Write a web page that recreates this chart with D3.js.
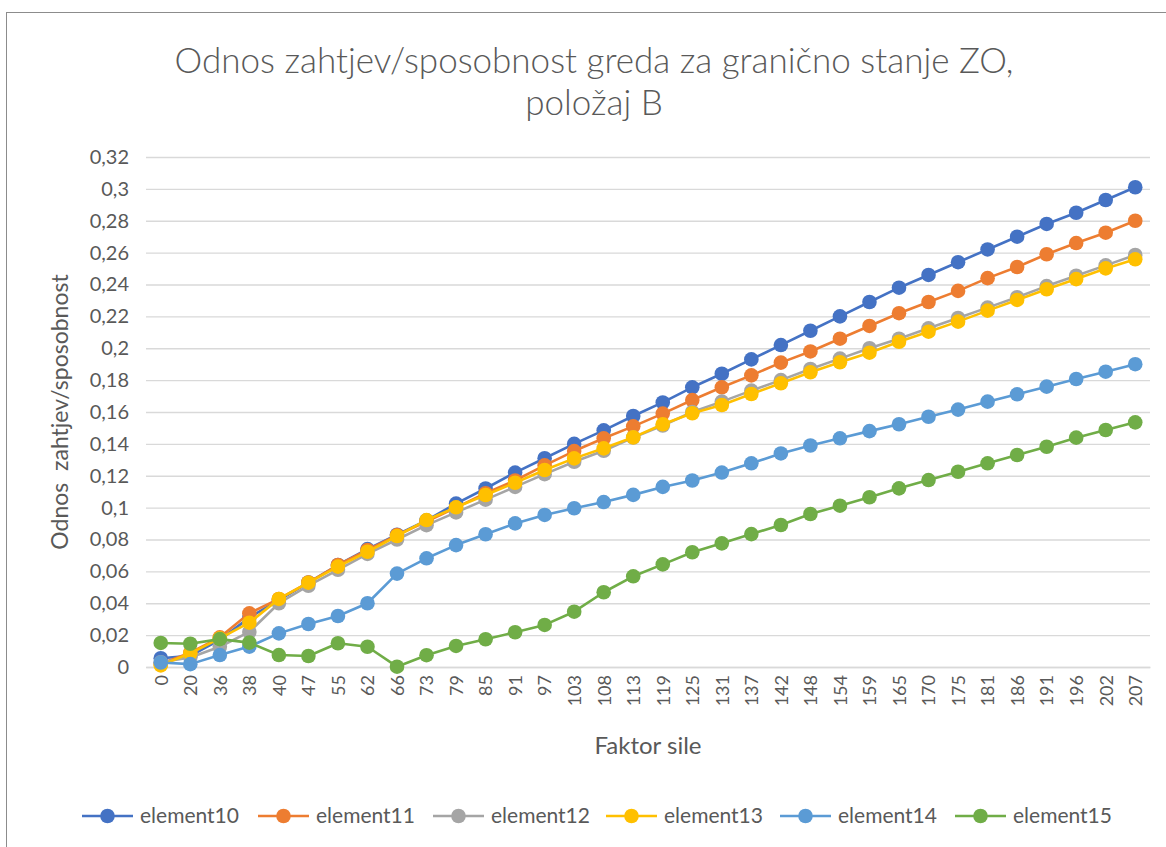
<!DOCTYPE html>
<html>
<head>
<meta charset="utf-8">
<script src="https://cdn.jsdelivr.net/npm/d3@7"></script>
<style>
  html, body { margin: 0; padding: 0; background: #ffffff; }
  svg { display: block; font-family: Lato, "Open Sans", sans-serif; }
</style>
</head>
<body>
<svg id="chart" width="1166" height="847"></svg>
<script>
// Force factor steps along the x axis
const categories = ["0","20","36","38","40","47","55","62","66","73","79","85","91","97","103","108","113","119","125","131","137","142","148","154","159","165","170","175","181","186","191","196","202","207"];

// Demand/capacity ratio per beam element
const element10 = [0.0055,0.007,0.017,0.031,0.042,0.053,0.064,0.074,0.083,0.092,0.1025,0.112,0.122,0.131,0.140,0.1485,0.1575,0.166,0.1755,0.184,0.193,0.202,0.211,0.220,0.229,0.238,0.246,0.254,0.262,0.270,0.278,0.285,0.293,0.301];
const element11 = [0.002,0.009,0.0186,0.0337,0.0427,0.053,0.064,0.0734,0.0828,0.0912,0.100,0.109,0.117,0.1265,0.1355,0.1435,0.151,0.159,0.1675,0.1755,0.183,0.191,0.198,0.206,0.214,0.222,0.229,0.236,0.244,0.251,0.259,0.266,0.2725,0.280];
const element12 = [0.003,0.006,0.0127,0.022,0.040,0.051,0.061,0.071,0.080,0.089,0.097,0.105,0.113,0.121,0.1288,0.1357,0.144,0.1515,0.160,0.1665,0.1734,0.180,0.187,0.1935,0.200,0.206,0.2125,0.219,0.2255,0.232,0.239,0.2455,0.252,0.2585];
const element13 = [0.001,0.0086,0.018,0.0278,0.0427,0.0529,0.063,0.0723,0.0822,0.0922,0.1002,0.1079,0.1156,0.1236,0.1309,0.1372,0.1441,0.1523,0.1592,0.1644,0.1713,0.178,0.1849,0.1912,0.1972,0.2041,0.2104,0.2167,0.2236,0.2303,0.237,0.2434,0.2501,0.2558];
const element14 = [0.0028,0.0018,0.0075,0.0128,0.0211,0.027,0.032,0.040,0.0586,0.0682,0.0765,0.0833,0.0901,0.0954,0.0996,0.1035,0.108,0.113,0.117,0.122,0.1278,0.134,0.139,0.1435,0.148,0.1523,0.157,0.1615,0.1665,0.1711,0.1759,0.1807,0.1853,0.190];
const element15 = [0.0151,0.0146,0.0175,0.0153,0.0075,0.0069,0.0149,0.0127,0.0002,0.0074,0.0132,0.0174,0.0218,0.0264,0.0347,0.0469,0.0569,0.0644,0.072,0.0776,0.0834,0.0891,0.096,0.1012,0.1065,0.1121,0.1173,0.1225,0.1278,0.133,0.1382,0.1439,0.1487,0.1535];

const seriesNames = ["element10","element11","element12","element13","element14","element15"];
const seriesColors = ["#4472C4","#ED7D31","#A5A5A5","#FFC000","#5B9BD5","#70AD47"];
const yTicks = [0,0.02,0.04,0.06,0.08,0.1,0.12,0.14,0.16,0.18,0.2,0.22,0.24,0.26,0.28,0.3,0.32];

const titleLines = ["Odnos zahtjev/sposobnost greda za granično stanje ZO,", "položaj B"];
const xTitle = "Faktor sile";
const yTitle = "Odnos  zahtjev/sposobnost";

const series = seriesNames.map((name, i) => ({
  name,
  color: seriesColors[i],
  values: [element10, element11, element12, element13, element14, element15][i]
}));

const svg = d3.select("#chart");
const textColor = "#595959";
const gridColor = "#d9d9d9";

// Plot area
const plot = { left: 146, right: 1150, top: 157, bottom: 667 };

const x = d3.scalePoint().domain(categories).range([plot.left, plot.right]).padding(0.5);
const y = d3.scaleLinear().domain([0, 0.32]).range([plot.bottom, plot.top]);

const locale = d3.formatLocale({ decimal: ",", thousands: ".", grouping: [3], currency: ["", " €"] });
const fmt = locale.format(".2~f");

// Outer chart border
svg.append("rect")
  .attr("x", 6.5).attr("y", 12.5)
  .attr("width", 1200).attr("height", 900)
  .attr("fill", "none").attr("stroke", "#8c8c8c").attr("stroke-width", 1);

// Title
const title = svg.append("text")
  .attr("text-anchor", "middle")
  .attr("fill", textColor)
  .attr("font-size", 35)
  .attr("font-weight", 300);
titleLines.forEach((line, i) => {
  title.append("tspan").attr("x", 594).attr("y", 73 + i * 42).text(line);
});

// Y axis with horizontal gridlines
const yAxis = svg.append("g")
  .attr("transform", `translate(${plot.left},0)`)
  .call(d3.axisLeft(y).tickValues(yTicks).tickFormat(fmt)
    .tickSize(-(plot.right - plot.left)).tickPadding(17));
yAxis.select(".domain").remove();
yAxis.selectAll(".tick line").attr("stroke", gridColor).attr("stroke-width", 1.3);
yAxis.selectAll(".tick text")
  .attr("fill", textColor).attr("font-size", 20)
  .attr("font-family", "Lato, 'Open Sans', sans-serif");

// X axis with rotated category labels
const xAxis = svg.append("g")
  .attr("transform", `translate(0,${plot.bottom})`)
  .call(d3.axisBottom(x).tickSize(0).tickPadding(0));
xAxis.select(".domain").attr("stroke", gridColor).attr("stroke-width", 1.3);
xAxis.selectAll(".tick text")
  .attr("fill", textColor).attr("font-size", 18)
  .attr("font-family", "Lato, 'Open Sans', sans-serif")
  .attr("text-anchor", "end")
  .attr("transform", "rotate(-90)")
  .attr("x", -8).attr("y", 0).attr("dy", "0.35em");

// Axis titles
svg.append("text")
  .attr("x", (plot.left + plot.right) / 2).attr("y", 754)
  .attr("text-anchor", "middle").attr("fill", textColor).attr("font-size", 24)
  .text(xTitle);
svg.append("text")
  .attr("transform", `translate(68,${(plot.top + plot.bottom) / 2}) rotate(-90)`)
  .attr("text-anchor", "middle").attr("fill", textColor).attr("font-size", 23)
  .style("white-space", "pre")
  .attr("xml:space", "preserve")
  .text(yTitle);

// Series: line then markers, drawn in order so later series sit on top
const line = d3.line()
  .x((d, i) => x(categories[i]))
  .y(d => y(d));

const sG = svg.append("g").selectAll("g").data(series).join("g");
sG.append("path")
  .attr("d", d => line(d.values))
  .attr("fill", "none")
  .attr("stroke", d => d.color)
  .attr("stroke-width", 2.6)
  .attr("stroke-linejoin", "round");
sG.each(function (s) {
  d3.select(this).selectAll("circle").data(s.values).join("circle")
    .attr("cx", (d, i) => x(categories[i]))
    .attr("cy", d => y(d))
    .attr("r", 7.3)
    .attr("fill", s.color);
});

// Legend
const legendX = [82, 258, 433, 606, 780, 955];
const legend = svg.append("g").selectAll("g").data(series).join("g")
  .attr("transform", (d, i) => `translate(${legendX[i]},816)`);
legend.append("line")
  .attr("x1", 0).attr("x2", 51).attr("y1", 0).attr("y2", 0)
  .attr("stroke", d => d.color).attr("stroke-width", 2.6);
legend.append("circle")
  .attr("cx", 25.5).attr("cy", 0).attr("r", 7.3)
  .attr("fill", d => d.color);
legend.append("text")
  .attr("x", 58).attr("y", 0).attr("dy", "0.35em")
  .attr("fill", textColor).attr("font-size", 21)
  .text(d => d.name);
</script>
</body>
</html>
